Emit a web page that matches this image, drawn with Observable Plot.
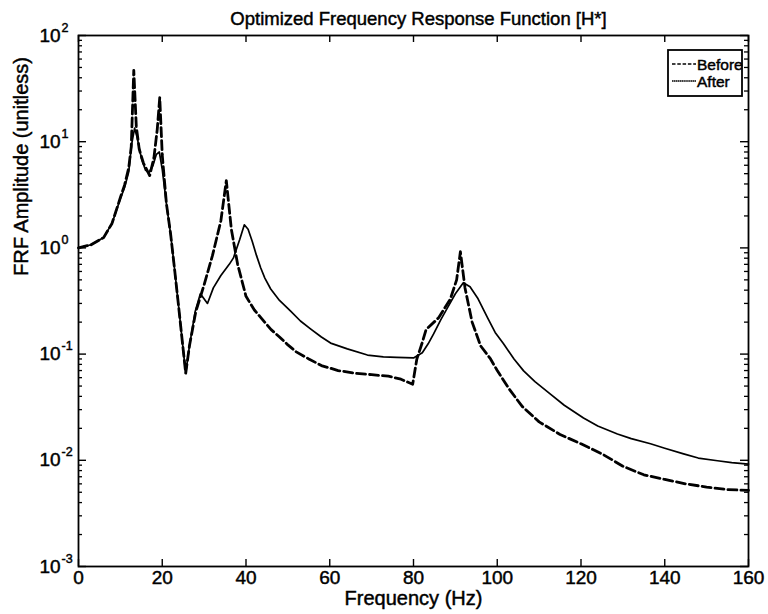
<!DOCTYPE html>
<html><head><meta charset="utf-8">
<script src="https://cdn.jsdelivr.net/npm/d3@7"></script>
<script src="https://cdn.jsdelivr.net/npm/@observablehq/plot@0.6"></script>
<style>
body{margin:0;background:#fff;} svg{display:block;}
#chart svg text{stroke:#000;stroke-width:0.45px;}
</style>
</head><body><div id="chart"></div>
<script>
const beforeFreq = [0,3,6,8,10,11,12,12.6,13.2,13.8,14.5,15.5,17,18,18.8,19.4,20,21,22,23,24,25,25.6,26.5,28,30,32,34,35.3,36.5,38,40,42,44,46,48,50,52,55,58,62,66,70,74,77,79.8,80.8,82,83,86,88.8,90.3,91.2,92.3,94,96,98.4,100,103,106,110,115,120,125,130,135,140,145,150,155,160];
const beforeAmp  = [1.0,1.07,1.25,1.7,2.98,3.9,5.7,9,47,14,8.5,6.3,4.8,7,13,26,7.5,2.6,1.35,0.6,0.26,0.11,0.066,0.12,0.25,0.45,0.85,1.8,4.3,1.5,0.7,0.35,0.26,0.21,0.17,0.145,0.122,0.105,0.09,0.078,0.07,0.066,0.064,0.062,0.058,0.052,0.09,0.125,0.17,0.22,0.33,0.5,0.92,0.42,0.2,0.12,0.09,0.07,0.046,0.032,0.023,0.0175,0.0143,0.0115,0.0088,0.0073,0.0066,0.006,0.0056,0.0053,0.0052];
const afterFreq  = [0,3,6,8,10,11,12,12.7,13.4,14,15,16,16.8,17.8,18.6,19.3,20,21,22,23,24,25,25.6,26.5,27.9,29.1,30.8,32.2,34,36,37,38.5,39.6,40.5,41.5,42.5,43.5,44.5,45.9,48,50.6,53,55.4,58,60.2,64.2,69,72.8,76,80,82.1,83.5,84.8,86.5,88.1,90,91.9,93.5,95.3,97.7,99.5,101.5,104,106.3,109,112.7,116,120.6,124,128.7,132,136.6,140,144.5,148,152.6,156,160];
const afterAmp   = [1.0,1.07,1.25,1.7,2.9,3.7,5.2,9.5,13.4,11,7,5.4,5.1,6,7.6,8,5.5,2.6,1.35,0.6,0.26,0.11,0.066,0.12,0.255,0.37,0.3,0.42,0.55,0.7,0.805,1.2,1.65,1.5,1.15,0.85,0.65,0.52,0.41,0.32,0.255,0.205,0.173,0.145,0.127,0.112,0.098,0.094,0.093,0.092,0.103,0.125,0.155,0.21,0.272,0.37,0.47,0.43,0.338,0.219,0.16,0.125,0.09,0.0695,0.055,0.042,0.033,0.025,0.021,0.0177,0.016,0.0143,0.013,0.0115,0.0105,0.0099,0.0095,0.0092];
const seriesNames = ["Before", "After"];
const xTicks = [0,20,40,60,80,100,120,140,160];
const yTicks = [1e-3,1e-2,1e-1,1e0,1e1,1e2];
const yTickExponents = ["-3","-2","-1","0","1","2"];
const titleText = "Optimized Frequency Response Function [H*]";
const xLabel = "Frequency (Hz)";
const yLabel = "FRF Amplitude (unitless)";

const data = [
  ...beforeFreq.map((f, i) => ({series: seriesNames[0], f, a: beforeAmp[i]})),
  ...afterFreq.map((f, i) => ({series: seriesNames[1], f, a: afterAmp[i]}))
];
const yMinor = yTicks.slice(0, -1).flatMap(d => [2,3,4,5,6,7,8,9].map(k => k * d));
const yLabels = yTicks.map((v, i) => ({v, e: yTickExponents[i]}));

const W = 768, H = 614, ML = 78, MR = 20, MT = 35, MB = 48;
const FW = W - ML - MR, FH = H - MT - MB;
const font = "'Liberation Sans', Arial, Helvetica, sans-serif";

const chart = Plot.plot({
  width: W, height: H,
  marginLeft: ML, marginRight: MR, marginTop: MT, marginBottom: MB,
  style: {fontFamily: font, fontSize: "19px", color: "#000", background: "#fff"},
  x: {domain: [0, 160], label: null},
  y: {type: "log", domain: [1e-3, 1e2], label: null},
  marks: [
    Plot.axisX(xTicks, {anchor: "bottom", tickSize: 0, tickPadding: 4, fontSize: 19, tickFormat: d => String(d)}),
    Plot.axisY([], {anchor: "left", tickSize: 0}),
    // inward ticks
    Plot.tickX(xTicks, {x: d => d, insetTop: FH - 7, stroke: "#000", strokeWidth: 1.4}),
    Plot.tickX(xTicks, {x: d => d, insetBottom: FH - 7, stroke: "#000", strokeWidth: 1.4}),
    Plot.tickY(yTicks, {y: d => d, insetRight: FW - 8, stroke: "#000", strokeWidth: 1.4}),
    Plot.tickY(yTicks, {y: d => d, insetLeft: FW - 8, stroke: "#000", strokeWidth: 1.4}),
    Plot.tickY(yMinor, {y: d => d, insetRight: FW - 4, stroke: "#000", strokeWidth: 1.3}),
    Plot.tickY(yMinor, {y: d => d, insetLeft: FW - 4, stroke: "#000", strokeWidth: 1.3}),
    // y tick labels 10^n
    Plot.text(yLabels, {y: "v", text: () => "10", frameAnchor: "left", dx: -39, textAnchor: "start", fontSize: 19, fill: "#000"}),
    Plot.text(yLabels, {y: "v", text: "e", frameAnchor: "left", dx: -17, dy: -8, textAnchor: "start", fontSize: 12.5, fill: "#000"}),
    // data
    Plot.line(data.filter(d => d.series === "Before"), {x: "f", y: "a", stroke: "#000", strokeWidth: 2.8, strokeDasharray: "9,4"}),
    Plot.line(data.filter(d => d.series === "After"), {x: "f", y: "a", stroke: "#000", strokeWidth: 1.7}),
    Plot.frame({stroke: "#000", strokeWidth: 1.8}),
    // titles
    Plot.text([titleText], {frameAnchor: "top", dx: 5, dy: -24, fontSize: 18.5, fill: "#000"}),
    Plot.text([xLabel], {frameAnchor: "bottom", dy: 38.5, fontSize: 20, fill: "#000"}),
    Plot.text([yLabel], {frameAnchor: "left", dx: -57, dy: -25, rotate: -90, fontSize: 20, fill: "#000"})
  ]
});

// legend
const svg = d3.select(chart);
const lg = svg.append("g").attr("font-family", font).attr("font-size", 15.5).attr("text-anchor", "start");
const bx = 668, by = 50, bw = 74, bh = 46;
lg.append("rect").attr("x", bx).attr("y", by).attr("width", bw).attr("height", bh)
  .attr("fill", "#fff").attr("stroke", "#000").attr("stroke-width", 1.8);
seriesNames.forEach((name, i) => {
  const yy = by + 14 + i * 17;
  lg.append("line").attr("x1", bx + 4).attr("x2", bx + 28).attr("y1", yy).attr("y2", yy)
    .attr("stroke", "#000").attr("stroke-width", 1.6)
    .attr("stroke-dasharray", i === 0 ? "3.5,1.8" : "1.5,0.4");
  lg.append("text").attr("x", bx + 29).attr("y", yy).attr("dy", "0.36em").attr("fill", "#000").text(name);
});
document.getElementById("chart").appendChild(chart);
</script>
</body></html>
